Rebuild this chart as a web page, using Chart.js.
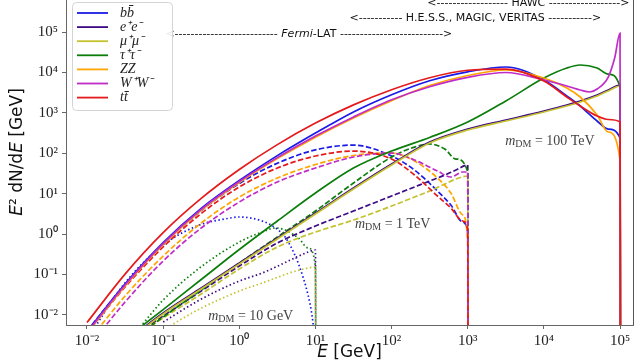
<!DOCTYPE html>
<html>
<head>
<meta charset="utf-8">
<script src="https://cdn.jsdelivr.net/npm/chart.js@4.4.1/dist/chart.umd.min.js"></script>
<style>
  html, body { margin: 0; padding: 0; background: #fff; }
  #wrap { width: 640px; height: 360px; }
</style>
</head>
<body>
<div id="wrap"><canvas id="spectra" width="640" height="360"></canvas></div>
<script>
// Gamma-ray spectra E^2 dN/dE [GeV] vs E [GeV].
// Each spectrum ends at E = m_DM (last point drops below the axis).

const channelLabels = ['bb\u0304', 'e\u207Ae\u207B', '\u03BC\u207A\u03BC\u207B', '\u03C4\u207A\u03C4\u207B', 'ZZ', 'W\u207AW\u207B', 'tt\u0304'];
const channelColors = ['#1a1ae6', '#3d0a85', '#c4c22e', '#0a7d0a', '#ffa500', '#c02cc8', '#e41a1c'];

const xTickValues = [1e-2, 1e-1, 1, 1e1, 1e2, 1e3, 1e4, 1e5];
const xTickLabels = ['10\u207B\u00B2', '10\u207B\u00B9', '10\u2070', '10\u00B9', '10\u00B2', '10\u00B3', '10\u2074', '10\u2075'];
const yTickValues = [1e-2, 1e-1, 1, 1e1, 1e2, 1e3, 1e4, 1e5];
const yTickLabels = ['10\u207B\u00B2', '10\u207B\u00B9', '10\u2070', '10\u00B9', '10\u00B2', '10\u00B3', '10\u2074', '10\u2075'];

// m_DM = 10 GeV (dotted)
const bb10E = [0.012, 0.03, 0.1, 0.3, 0.7, 1, 2, 3, 4, 5, 6, 8, 9, 10];
const bb10 = [4.2e-3, 0.0547, 0.534, 1.67, 2.42, 2.64, 2.10, 1.41, 0.843, 0.402, 0.181, 0.0309, 9.9e-3, 1.79e-3];
const lep10E = [0.1, 0.3, 1, 2, 3, 5, 8, 10, 10.1];
const ee10 = [6.64e-3, 0.0232, 0.0687, 0.108, 0.152, 0.241, 0.358, 0.402, 1e-3];
const mumu10 = [4.2e-3, 0.0139, 0.0388, 0.0612, 0.0815, 0.115, 0.144, 0.152, 1e-3];
const tautau10E = [0.05, 0.1, 0.3, 1, 2, 3, 4, 5, 6, 8, 10, 10.1];
const tautau10 = [4.99e-3, 0.0232, 0.144, 0.634, 1.12, 1.41, 1.26, 1.0, 0.796, 0.450, 0.161, 1e-3];

// m_DM = 1 TeV (dashed)
const had1E = [0.01, 0.0316, 0.1, 0.316, 1, 3.16, 10, 31.6, 100, 200, 400, 600, 860, 1000, 1010];
const bb1 = [3.97e-3, 0.0565, 0.562, 3.82, 17.8, 56.5, 121, 159, 85.3, 38.4, 11.6, 5.22, 1.98, 1.06, 1e-3];
const zz1 = [2.0e-3, 0.0292, 0.285, 1.87, 8.24, 24.3, 52.5, 87.7, 101, 64.1, 24.3, 10.35, 2.95, 0.599, 1e-3];
const ww1 = [1.42e-3, 0.0207, 0.215, 1.41, 6.20, 19.4, 43.0, 80.5, 101, 67.9, 36.3, 25.8, 34.3, 34.3, 1e-3];
const tt1 = [3.55e-3, 0.0488, 0.477, 3.22, 14.6, 43.0, 85.3, 113, 71.8, 28.9, 8.73, 4.40, 2.10, 1.26, 1e-3];
const lep1E = [0.0316, 0.1, 0.316, 1, 3.16, 10, 31.6, 100, 200, 316, 500, 700, 1000, 1010];
const ee1 = [2.25e-3, 9.33e-3, 0.0388, 0.161, 0.599, 1.58, 3.71, 8.73, 14.6, 20.5, 28.9, 38.4, 51.0, 1e-3];
const mumu1 = [2.0e-3, 8.34e-3, 0.0327, 0.136, 0.477, 1.12, 2.22, 4.93, 8.24, 11.6, 17.3, 23.0, 27.3, 1e-3];
const tautau1 = [1.79e-3, 8.83e-3, 0.0411, 0.191, 0.843, 3.71, 18.3, 80.5, 142, 169, 127, 71.8, 34.3, 1e-3];

// m_DM = 100 TeV (solid)
const had100E = [0.01, 0.0316, 0.1, 0.316, 1, 3.16, 10, 31.6, 100, 316, 1e3, 3162, 1e4, 2e4, 3e4, 5e4, 7e4, 1e5, 1.01e5];
const bb100 = [3.86e-3, 0.0578, 0.612, 4.30, 21.1, 87.2, 315, 1052, 2805, 6235, 1.035e4, 1.36e4, 6490, 2606, 1473, 627, 397, 238, 1e-3];
const zz100 = [3.44e-3, 0.0516, 0.547, 3.84, 18.8, 73.5, 250, 748, 1993, 4740, 8380, 1.146e4, 7260, 4110, 2461, 883, 335, 67.9, 1e-3];
const tt100 = [6.44e-3, 0.102, 1.083, 7.61, 39.5, 163, 556, 1570, 3730, 7390, 1.13e4, 1.21e4, 6124, 2461, 1473, 833, 683, 592, 1e-3];
const ww100E = [0.01, 0.0316, 0.1, 0.316, 1, 3.16, 10, 31.6, 100, 316, 1e3, 3162, 1e4, 2e4, 3e4, 4e4, 5e4, 7e4, 8.5e4, 1e5, 1.01e5];
const ww100 = [3.65e-3, 0.0547, 0.578, 4.06, 19.9, 77.8, 265, 792, 2110, 4425, 7560, 9950, 6490, 4610, 3665, 3273, 3882, 7690, 2.27e4, 9.45e4, 1e-3];
const lep100E = [0.0316, 0.1, 0.316, 1, 3.16, 10, 31.6, 100, 316, 1e3, 3162, 1e4, 2e4, 3e4, 5e4, 7e4, 1e5, 1.01e5];
const ee100 = [2.12e-3, 0.0111, 0.0461, 0.191, 0.796, 3.31, 13.8, 54.0, 189, 397, 664, 1109, 1560, 1960, 2760, 3665, 4880, 1e-3];
const mumu100 = [2.0e-3, 0.0105, 0.0435, 0.181, 0.752, 3.13, 13.0, 51.0, 179, 375, 627, 1047, 1473, 1851, 2606, 3467, 4608, 1e-3];
const tautau100 = [2.52e-3, 0.0135, 0.0748, 0.413, 2.10, 10.35, 43.0, 113, 245, 592, 1960, 7260, 1.285e4, 1.525e4, 1.285e4, 9120, 4355, 1e-3];

const DOTTED = [1.5, 2.5];
const DASHED = [5.5, 2.4];
const SOLID = [];

// channel index, dash, energies, values, shown in legend
const seriesList = [
  [0, DOTTED, bb10E, bb10, false],
  [1, DOTTED, lep10E, ee10, false],
  [2, DOTTED, lep10E, mumu10, false],
  [3, DOTTED, tautau10E, tautau10, false],
  [0, DASHED, had1E, bb1, false],
  [1, DASHED, lep1E, ee1, false],
  [2, DASHED, lep1E, mumu1, false],
  [3, DASHED, lep1E, tautau1, false],
  [4, DASHED, had1E, zz1, false],
  [5, DASHED, had1E, ww1, false],
  [6, DASHED, had1E, tt1, false],
  [0, SOLID, had100E, bb100, true],
  [1, SOLID, lep100E, ee100, true],
  [2, SOLID, lep100E, mumu100, true],
  [3, SOLID, lep100E, tautau100, true],
  [4, SOLID, had100E, zz100, true],
  [5, SOLID, ww100E, ww100, true],
  [6, SOLID, had100E, tt100, true]
];

const datasets = seriesList.map(function (s, i) {
  return {
    label: channelLabels[s[0]],
    data: s[2].map(function (e, k) { return { x: e, y: s[3][k] }; }),
    borderColor: channelColors[s[0]],
    borderWidth: 1.7,
    borderDash: s[1],
    pointRadius: 0,
    fill: false,
    cubicInterpolationMode: 'monotone',
    order: seriesList.length - i,   // later series drawn on top
    inLegend: s[4]
  };
});

// draw a run of text pieces [text, font, dy] starting at x
function drawPieces(ctx, pieces, x, y) {
  pieces.forEach(function (p) {
    ctx.font = p[1];
    ctx.fillText(p[0], x, y + (p[2] || 0));
    x += ctx.measureText(p[0]).width;
  });
  return x;
}
function piecesWidth(ctx, pieces) {
  let w = 0;
  pieces.forEach(function (p) { ctx.font = p[1]; w += ctx.measureText(p[0]).width; });
  return w;
}

// "<------ label ------>" between two pixel positions
function rangeArrow(ctx, mid, x0, x1, y) {
  const f = '11px "DejaVu Sans"';
  ctx.font = f;
  const wd = ctx.measureText('-').width;
  const wl = ctx.measureText('<').width, wr = ctx.measureText('>').width, ws = ctx.measureText(' ').width;
  const wm = piecesWidth(ctx, mid);
  const n = Math.max(1, Math.floor((x1 - x0 - wl - wr - wm - 2 * ws) / (2 * wd)));
  const dashes = '-'.repeat(n);
  let x = drawPieces(ctx, [['<' + dashes + ' ', f]], x0, y);
  x = drawPieces(ctx, mid, x, y);
  drawPieces(ctx, [[' ' + dashes + '>', f]], x, y);
}

function massLabel(ctx, value, x, y) {
  drawPieces(ctx, [
    ['m', 'italic 14px "Liberation Serif"'],
    ['DM', '10px "Liberation Serif"', 3],
    [' = ' + value, '14px "Liberation Serif"']
  ], x, y);
}

const decorPlugin = {
  id: 'decor',
  afterDraw: function (chart) {
    const ctx = chart.ctx, a = chart.chartArea;
    const xs = chart.scales.x, ys = chart.scales.y;
    ctx.save();

    // right spine
    ctx.strokeStyle = '#555';
    ctx.lineWidth = 1;
    ctx.beginPath();
    ctx.moveTo(Math.round(a.right) + 0.5, a.top);
    ctx.lineTo(Math.round(a.right) + 0.5, a.bottom);
    ctx.stroke();

    // experiment ranges
    ctx.fillStyle = '#111';
    ctx.textBaseline = 'middle';
    const sans = '11px "DejaVu Sans"';
    rangeArrow(ctx, [['HAWC', sans]], xs.getPixelForValue(295), a.right, 3);
    rangeArrow(ctx, [['H.E.S.S., MAGIC, VERITAS', sans]], xs.getPixelForValue(28), xs.getPixelForValue(5.8e4), 18);
    rangeArrow(ctx, [['Fermi', 'italic 11px "DejaVu Sans"'], ['-LAT', sans]], xs.getPixelForValue(0.107), xs.getPixelForValue(740), 34);

    // mass labels
    ctx.fillStyle = '#444';
    massLabel(ctx, '100 TeV', xs.getPixelForValue(3.1e3), ys.getPixelForValue(200));
    massLabel(ctx, '1 TeV', xs.getPixelForValue(33), ys.getPixelForValue(1.77));
    massLabel(ctx, '10 GeV', xs.getPixelForValue(0.39), ys.getPixelForValue(9.3e-3));

    // legend box
    const lx = a.left + 6, ly = 2, lw = 100, lh = 108;
    ctx.fillStyle = 'rgba(255,255,255,0.9)';
    ctx.strokeStyle = '#d4d4d4';
    ctx.beginPath();
    ctx.roundRect(lx + 0.5, ly + 0.5, lw, lh, 4);
    ctx.fill();
    ctx.stroke();
    let row = 0;
    chart.data.datasets.forEach(function (ds) {
      if (!ds.inLegend) return;
      const ry = ly + 11 + row * 14.1;
      ctx.strokeStyle = ds.borderColor;
      ctx.lineWidth = 1.8;
      ctx.setLineDash([]);
      ctx.beginPath();
      ctx.moveTo(lx + 5, ry);
      ctx.lineTo(lx + 36, ry);
      ctx.stroke();
      ctx.fillStyle = '#222';
      ctx.font = 'italic 14px "Liberation Serif"';
      ctx.fillText(ds.label, lx + 48, ry);
      row++;
    });

    // axis titles
    ctx.fillStyle = '#111';
    ctx.textBaseline = 'alphabetic';
    const t = '17px "DejaVu Sans"', ti = 'italic 17px "DejaVu Sans"';
    const xt = [['E', ti], [' [GeV]', t]];
    drawPieces(ctx, xt, (a.left + a.right) / 2 - piecesWidth(ctx, xt) / 2, 357);
    const yt = [['E', ti], ['\u00B2', t], [' dN/d', t], ['E', ti], [' [GeV]', t]];
    ctx.translate(22, 152);
    ctx.rotate(-Math.PI / 2);
    drawPieces(ctx, yt, -piecesWidth(ctx, yt) / 2, 0);
    ctx.restore();
  }
};

const tickFont = { family: '"Liberation Serif", serif', size: 15 };

new Chart(document.getElementById('spectra'), {
  type: 'line',
  data: { datasets: datasets },
  options: {
    responsive: false,
    animation: false,
    devicePixelRatio: 1,
    layout: { padding: { left: 0, right: 7, top: 0, bottom: 0 } },
    plugins: { legend: { display: false }, tooltip: { enabled: false } },
    scales: {
      x: {
        type: 'logarithmic',
        position: 'bottom',
        min: 0.0053,
        max: 1.48e5,
        bounds: 'data',
        afterBuildTicks: function (s) { s.ticks = xTickValues.map(function (v) { return { value: v }; }); },
        afterFit: function (s) { s.height = 35; s.paddingLeft = 0; s.paddingRight = 0; },
        ticks: {
          autoSkip: false, maxRotation: 0, padding: 3, color: '#222', font: tickFont,
          callback: function (v) { return xTickLabels[xTickValues.indexOf(v)]; }
        },
        grid: { drawOnChartArea: false, drawTicks: true, tickLength: 4, color: '#666' },
        border: { color: '#666', width: 1 }
      },
      y: {
        type: 'logarithmic',
        min: 5.6e-3,
        max: 6.2e5,
        bounds: 'data',
        afterBuildTicks: function (s) { s.ticks = yTickValues.map(function (v) { return { value: v }; }); },
        afterFit: function (s) { s.width = 66; s.paddingTop = 0; s.paddingBottom = 0; },
        ticks: {
          autoSkip: false, padding: 4, color: '#222', font: tickFont,
          callback: function (v) { return yTickLabels[yTickValues.indexOf(v)]; }
        },
        grid: { drawOnChartArea: false, drawTicks: true, tickLength: 4, color: '#666' },
        border: { color: '#666', width: 1 }
      }
    }
  },
  plugins: [decorPlugin]
});
</script>
</body>
</html>
